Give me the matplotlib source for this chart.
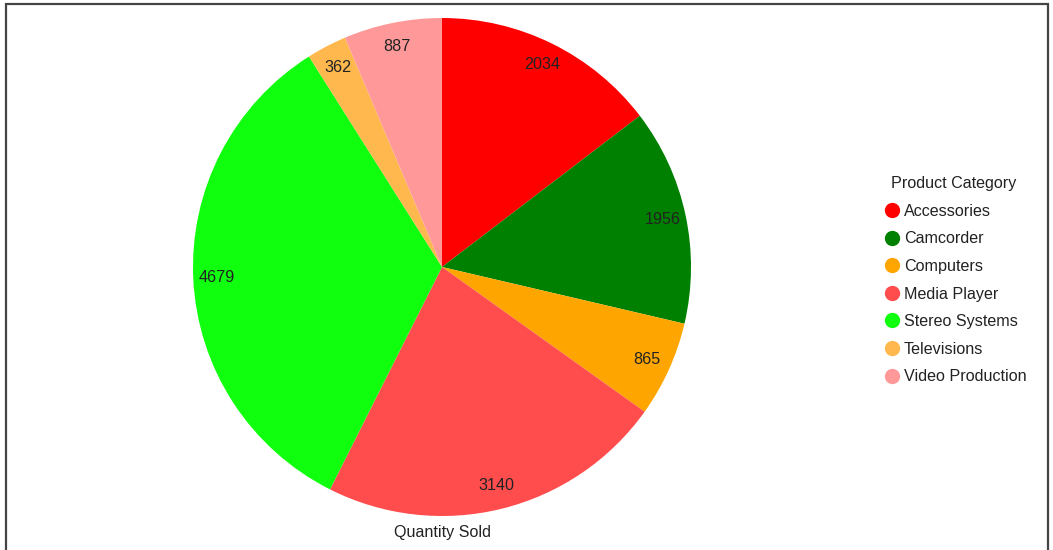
import matplotlib.pyplot as plt
from matplotlib.lines import Line2D
from matplotlib.patches import Rectangle

plt.rcParams['font.family'] = ['Liberation Sans', 'DejaVu Sans']

# datos
categorias = ['Accessories', 'Camcorder', 'Computers', 'Media Player',
              'Stereo Systems', 'Televisions', 'Video Production']
cantidades = [2034, 1956, 865, 3140, 4679, 362, 887]
colores = ['#FF0000', '#008000', '#FFA500', '#FF4D4D',
           '#0FFF0F', '#FFB84D', '#FF9999']

W, H = 1053, 550
FS = 11.6
fig = plt.figure(figsize=(W / 100, H / 100), dpi=100)

# pie: centro (442, 267), radio 249 px
cx, cy, r = 442, 267, 249
ax = fig.add_axes([(cx - r) / W, (H - cy - r) / H, 2 * r / W, 2 * r / H])

etiquetas = iter(str(v) for v in cantidades)
wedges, _, autotexts = ax.pie(
    cantidades, colors=colores, startangle=90, counterclock=False,
    radius=1.0, autopct=lambda p: next(etiquetas), pctdistance=0.905,
    wedgeprops=dict(linewidth=0),
    textprops=dict(fontsize=FS, color='#222222'),
)
ax.set_xlim(-1, 1)
ax.set_ylim(-1, 1)
ax.set_axis_off()

fig.text(cx / W, 1 - 533 / H, 'Quantity Sold', ha='center', va='center',
         fontsize=FS, color='#222222')

# leyenda
handles = [Line2D([], [], marker='o', linestyle='', markersize=10,
                  markerfacecolor=c, markeredgecolor=c) for c in colores]
leg = fig.legend(handles, categorias, title='Product Category',
                 loc='upper left', bbox_to_anchor=(870 / W, 1 - 165 / H),
                 frameon=False, fontsize=FS, title_fontsize=FS,
                 handletextpad=0.1, handlelength=1.3, labelspacing=0.78,
                 borderpad=0.2)
for t in leg.get_texts():
    t.set_color('#222222')
leg.get_title().set_color('#222222')

# marco
fig.patches.append(Rectangle((6 / W, -0.05), (1048 - 6) / W, 1 - 4 / H + 0.05,
                             transform=fig.transFigure, fill=False,
                             edgecolor='#444444', linewidth=1.6))

fig.savefig('out.png', dpi=100)
